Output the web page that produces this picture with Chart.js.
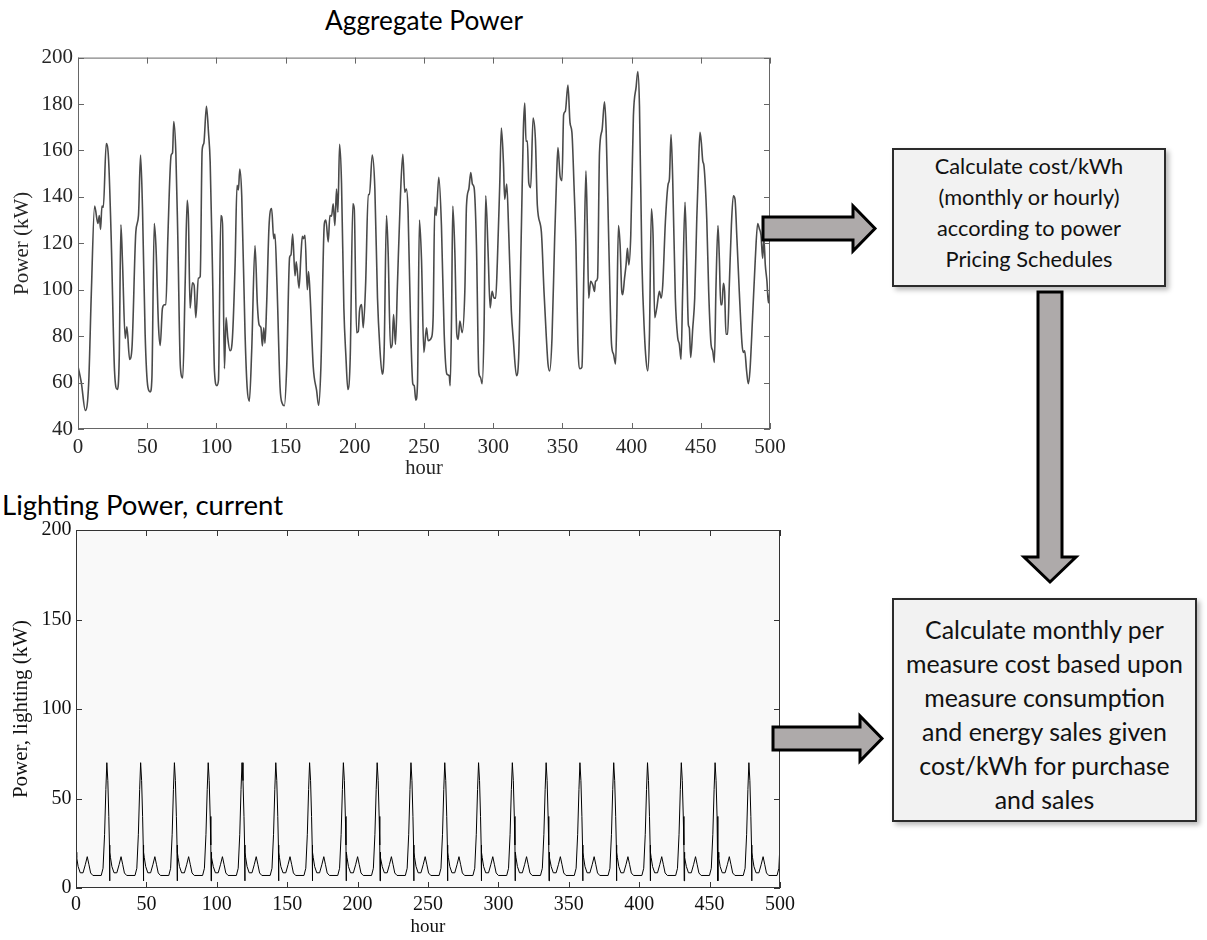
<!DOCTYPE html>
<html>
<head>
<meta charset="utf-8">
<script src="https://cdn.jsdelivr.net/npm/chart.js@4.4.0/dist/chart.umd.min.js"></script>
<style>
  body { margin: 0; width: 1207px; height: 940px; position: relative; background: #fff; overflow: hidden; font-family: Lato, "Open Sans", sans-serif; }
  .wrap { position: absolute; left: 0; }
  #aggWrap { top: 40px; }
  #lightWrap { top: 500px; }
  .title { position: absolute; white-space: nowrap; color: #000; line-height: 1; }
  .box { position: absolute; box-sizing: border-box; background: #f2f2f2; border: 2px solid #2b2b2b; box-shadow: 3px 3px 5px rgba(0,0,0,0.28); text-align: center; color: #111; }
  .box div { white-space: nowrap; }
  svg { position: absolute; left: 0; top: 0; }
</style>
</head>
<body>

<div class="title" id="aggTitle" style="left:424px;top:20px;transform:translate(-50%,-50%)">Aggregate Power</div>
<div class="title" id="lightTitle" style="left:2px;top:505px;transform:translateY(-50%)">Lighting Power, current</div>

<div class="wrap" id="aggWrap"><canvas id="aggChart" width="800" height="450"></canvas></div>
<div class="wrap" id="lightWrap"><canvas id="lightChart" width="800" height="440"></canvas></div>

<div class="box" id="box1" style="left:892px;top:148px;width:274px;height:139px;padding-top:0px;line-height:31px">
  <div>Calculate cost/kWh</div>
  <div>(monthly or hourly)</div>
  <div>according to power</div>
  <div><span class="ref" data-fit="167">Pricing Schedules</span></div>
</div>

<div class="box" id="box2" style="left:892px;top:598px;width:305px;height:224px;padding-top:12px;line-height:34px">
  <div>Calculate monthly per</div>
  <div><span class="ref" data-fit="277">measure cost based upon</span></div>
  <div>measure consumption</div>
  <div>and energy sales given</div>
  <div>cost/kWh for purchase</div>
  <div>and sales</div>
</div>

<svg width="1207" height="940">
  <g fill="#aeaaaa" stroke="#000" stroke-width="3" stroke-linejoin="miter">
    <polygon points="763,217 853,217 853,206 875,228.5 853,251 853,240 763,240"/>
    <polygon points="1038,292 1062,292 1062,557 1076,557 1050,582 1024,557 1038,557"/>
    <polygon points="773,727 860,727 860,716 882,738.5 860,761 860,750 773,750"/>
  </g>
</svg>

<script>
// aggregate power (hour, kW)
const aggHours = [0, 2.4, 5.3, 7.7, 9.6, 12, 14.4, 15.4, 16.3, 17.3, 18.3, 20.4, 22.1, 24, 26.4, 28.4, 29.8, 31, 32.2, 34.1,
  35.3, 37.3, 39, 41.8, 43.7, 45.2, 46.6, 48.5, 50.5, 52.2, 53.4, 55.1, 56.3, 58.2, 59.4, 61, 62.5, 63.5, 64.9, 67.3,
  68.3, 69.2, 70.7, 72.1, 74, 75.7, 77.4, 78.9, 79.8, 81, 82.7, 83.9, 85.1, 87, 88.3, 89.7, 90.9, 92.8, 94.3, 95.5,
  97.1, 98.6, 100.3, 101.5, 103.2, 104.4, 105.8, 107, 108.2, 109.9, 111.6, 113.5, 114.9, 115.9, 116.9, 118.3, 120.7, 122.2, 123.8, 125.5,
  127.9, 129.6, 130.8, 132.2, 133.2, 134.2, 135.1, 136.3, 138, 139.9, 141.4, 142.3, 143.8, 146, 147.6, 149.1, 150.8, 152.9, 153.9, 155.1,
  156.8, 157.7, 159.7, 161.1, 162.1, 163, 164, 165.7, 166.6, 167.8, 170, 172.4, 173.9, 175.5, 178, 179.1, 180.8, 182, 183.2, 184.4,
  185.6, 186.8, 187.8, 189, 190.4, 192.1, 193.6, 195, 196.7, 198.6, 199.6, 201.3, 202.5, 203.4, 204.9, 206.1, 207.8, 209.7, 210.6, 212.6,
  214.5, 216.4, 218.1, 219.8, 221.2, 222.9, 224.1, 225.8, 227, 228, 229.4, 230.8, 232.8, 234.7, 236.1, 237.3, 238.5, 240.2, 241.9, 242.9,
  244.1, 245.3, 246.7, 248.2, 249.9, 251.8, 253, 255.4, 256.6, 257.8, 258.8, 260.7, 262.6, 264.6, 266.5, 268.2, 268.9, 269.9, 270.8, 272.3,
  273.7, 274.7, 275.9, 277.6, 279.5, 280.7, 282.4, 283.8, 285, 286.2, 287.9, 289.6, 290.8, 292, 293.4, 294.6, 296.3, 297.8, 299.2, 300.6,
  301.8, 303, 304.7, 305.9, 307.4, 308.3, 309.8, 311.2, 313.1, 314.6, 316.8, 318.4, 320.4, 321.8, 322.8, 323.7, 324.7, 325.7, 327.1, 328.8,
  330.5, 331.9, 334.8, 336.7, 338.4, 339.6, 340.8, 342.5, 344.4, 345.9, 346.8, 348.3, 349.7, 350.9, 352.1, 354, 355.5, 356.9, 358.4, 359.8,
  361.2, 362.7, 364.1, 365.6, 367, 368, 369, 370.4, 372, 373.2, 373.9, 375.4, 376.8, 378.7, 380.4, 381.6, 383.5, 385.5, 386.9, 388.4,
  389.3, 390.5, 391.7, 392.9, 393.6, 394.9, 396, 397, 398, 399.4, 401.3, 403.3, 404.5, 405.7, 407.4, 409.3, 410.5, 411.7, 412.9, 414.3,
  415.5, 416.7, 418.2, 420.1, 421.3, 422.5, 424.4, 426.4, 427.3, 428.5, 429.7, 431.6, 433.3, 434.5, 435.7, 436.9, 438.6, 439.8, 441, 441.7,
  442.7, 444.2, 445.6, 447.1, 448.2, 449.4, 450.4, 451.4, 452.3, 454.3, 455.7, 457.4, 458.6, 459.8, 461, 462.4, 463.4, 464.4, 465.3, 466.3,
  467.2, 468.2, 469.4, 470.6, 472.1, 473.5, 474.7, 476.1, 477.8, 479.8, 480.7, 481.7, 483.1, 484.3, 485.5, 487.4, 489.4, 491.1, 492.3, 493.5,
  494.7, 495.6, 496.6, 497.8, 498.8, 500];
const aggKw = [67, 60, 48, 59.5, 98, 136, 128.5, 132, 126, 136, 135.5, 163, 156, 122, 65, 57, 71, 128, 111, 79,
  84, 70, 75, 125, 132, 158, 135, 81, 58, 56, 62, 128.5, 119, 84, 76, 92, 93.5, 93.5, 122, 158,
  159, 172.5, 159, 123, 66.5, 62, 102, 138.5, 130.6, 92, 103, 102, 88, 105, 105.7, 160, 163, 179, 167.6, 155,
  110.7, 65, 58.7, 61, 132, 128.5, 66, 88, 79.4, 73.7, 79.4, 110.7, 145, 143, 152, 140.5, 81, 58, 52, 73.7,
  119, 93.6, 85, 83.6, 75.8, 83.6, 77, 93.6, 127, 135, 122, 124, 102, 58, 51, 50, 66.6, 114, 115, 124,
  106, 112, 100.7, 115, 123, 122, 123.5, 100, 107.8, 96.4, 66.6, 56.6, 50.2, 66.6, 128.5, 130, 120.6, 132, 131.7, 137,
  127.7, 143.4, 133.4, 162.6, 146, 92, 71, 57, 71, 137, 134.9, 81.5, 82, 90.8, 93.6, 83.6, 102, 141, 141, 158,
  143.4, 96.4, 75, 63.7, 73.7, 132, 116, 75, 76.5, 89.3, 76.5, 102, 137.7, 158.3, 142, 143.4, 133.4, 88, 59.5, 58.7,
  52.4, 59.5, 130, 113, 73, 83.6, 78, 79.4, 88, 135.6, 132, 148.4, 127.7, 80.8, 63.7, 63, 58.7, 88, 136, 116,
  80.8, 78.6, 86.5, 81.5, 99.3, 136.3, 143.4, 150.5, 145.5, 144, 119.2, 64.4, 62.3, 59.5, 83.6, 140.5, 116.4, 92.2, 99.3, 96.4,
  96.4, 112, 144.8, 169.7, 154.8, 139, 145.5, 124.9, 90.8, 78, 63, 70.8, 127.7, 169, 180.4, 164, 164, 146, 144, 174,
  164.7, 136.3, 124.9, 99.3, 79.4, 68, 65, 79.4, 122, 150.5, 161.2, 149, 147, 175.4, 176.8, 188.2, 172, 167.6, 144.8, 119.2,
  76.5, 66, 66.6, 110.7, 151.2, 127.7, 96.4, 103.6, 102, 99.3, 103.6, 105, 159, 169, 181, 169, 120.6, 76.5, 72.3, 68,
  88, 127.7, 119.2, 99.3, 97.9, 105, 110.7, 117.8, 110.7, 123.5, 174.7, 187.5, 194, 178.9, 113.5, 80.8, 69.4, 65, 80.8, 134.9,
  123.5, 88, 92.2, 99.3, 96.4, 102, 129.2, 145.5, 147.6, 166.9, 147.6, 96.4, 79.4, 76.5, 70, 99.3, 137.7, 113.5, 85, 83.6,
  70.8, 83.6, 96.4, 130.6, 150.5, 167.8, 163.3, 155.5, 153.3, 130.6, 99.3, 76.5, 73.7, 68.7, 102, 127.7, 113.5, 93.6, 93.6, 102.8,
  99.3, 80.8, 80.8, 102, 127.7, 140.5, 139, 122, 99.3, 76.5, 73, 73.7, 65, 59.5, 65, 88, 113.5, 128.5, 126.3, 123.5,
  113.5, 122, 110.7, 103.6, 94.3, 100];

// lighting power: one day's profile (hour of day, kW), the same every day in the picture
const lightDayHour = [0, 0.5, 1.5, 3, 5, 6.6, 8, 9.2, 10.4, 12, 17.9, 19.2, 20.3, 21.2, 21.9, 22.6, 23.3, 23.75, 23.95];
const lightDayKw   = [20, 17, 12, 8.5, 8.5, 13, 17.5, 13, 8.4, 7, 7, 11, 30, 55, 70, 60, 40, 24, 4];
const lightDays = 21;

const aggYTicks = [40, 60, 80, 100, 120, 140, 160, 180, 200];
const lightYTicks = [0, 50, 100, 150, 200];
const hourTicks = [0, 50, 100, 150, 200, 250, 300, 350, 400, 450, 500];

const serif = "'Liberation Serif', 'Times New Roman', serif";

let lightPoints = [];
for (let d = 0; d < lightDays; d++) {
    lightDayHour.forEach((h, i) => {
        let x = d * 24 + h;
        if (x <= 502) lightPoints.push({ x: x, y: lightDayKw[i] });
    });
}

// MATLAB-like box with inward ticks on all four sides
const framePlugin = {
    id: 'frame',
    beforeDatasetsDraw(chart, args, opts) {
        if (!opts.bg) return;
        const a = chart.chartArea;
        chart.ctx.save();
        chart.ctx.fillStyle = opts.bg;
        chart.ctx.fillRect(a.left, a.top, a.width, a.height);
        chart.ctx.restore();
    },
    afterDraw(chart, args, opts) {
        const { ctx, chartArea: a, scales } = chart;
        const len = 6;
        ctx.save();
        ctx.strokeStyle = opts.color;
        ctx.lineWidth = 1;
        ctx.strokeRect(a.left + 0.5, a.top + 0.5, a.width - 1, a.height - 1);
        ctx.beginPath();
        scales.x.ticks.forEach(t => {
            const px = Math.round(scales.x.getPixelForValue(t.value)) + 0.5;
            ctx.moveTo(px, a.bottom); ctx.lineTo(px, a.bottom - len);
            ctx.moveTo(px, a.top); ctx.lineTo(px, a.top + len);
        });
        scales.y.ticks.forEach(t => {
            const py = Math.round(scales.y.getPixelForValue(t.value)) + 0.5;
            ctx.moveTo(a.left, py); ctx.lineTo(a.left + len, py);
            ctx.moveTo(a.right, py); ctx.lineTo(a.right - len, py);
        });
        ctx.stroke();
        ctx.restore();
    }
};

function tickList(values) {
    return scale => { scale.ticks = values.map(v => ({ value: v })); };
}

let aggChart = new Chart(document.getElementById('aggChart'), {
    type: 'line',
    data: {
        datasets: [{
            data: aggHours.map((h, i) => ({ x: h, y: aggKw[i] })),
            borderColor: '#4a4a4a',
            borderWidth: 1.6,
            pointRadius: 0,
            cubicInterpolationMode: 'monotone',
            clip: 0
        }]
    },
    options: {
        responsive: false,
        animation: false,
        layout: { padding: { top: 14, right: 30, left: 0, bottom: 0 } },
        plugins: {
            legend: { display: false },
            tooltip: { enabled: false },
            frame: { color: '#666' }
        },
        scales: {
            x: {
                type: 'linear', min: 0, max: 500,
                afterBuildTicks: tickList(hourTicks),
                afterFit: s => { s.height = 61; },
                grid: { display: false, drawTicks: false },
                border: { display: false },
                ticks: { font: { family: serif, size: 21 }, color: '#262626', padding: 6, maxRotation: 0, autoSkip: false },
                title: { display: true, text: 'hour', font: { family: serif, size: 20.5 }, color: '#262626', padding: { top: 0, bottom: 9 } }
            },
            y: {
                min: 40, max: 200,
                afterBuildTicks: tickList(aggYTicks),
                afterFit: s => { s.width = 78; },
                grid: { display: false, drawTicks: false },
                border: { display: false },
                ticks: { font: { family: serif, size: 21 }, color: '#262626', padding: 5 },
                title: { display: true, text: 'Power (kW)', font: { family: serif, size: 21 }, color: '#262626', padding: { top: 10, bottom: 0 } }
            }
        }
    },
    plugins: [framePlugin]
});

let lightChart = new Chart(document.getElementById('lightChart'), {
    type: 'line',
    data: {
        datasets: [{
            data: lightPoints,
            borderColor: '#000',
            borderWidth: 1,
            pointRadius: 0,
            tension: 0,
            clip: 0
        }]
    },
    options: {
        responsive: false,
        animation: false,
        layout: { padding: { top: 30, right: 16, left: 0, bottom: 0 } },
        plugins: {
            legend: { display: false },
            tooltip: { enabled: false },
            frame: { color: '#333', bg: '#f9f9f9' }
        },
        scales: {
            x: {
                type: 'linear', min: 0, max: 500,
                afterBuildTicks: tickList(hourTicks),
                afterFit: s => { s.height = 52; },
                grid: { display: false, drawTicks: false },
                border: { display: false },
                ticks: { font: { family: serif, size: 20 }, color: '#111', padding: 5, maxRotation: 0, autoSkip: false },
                title: { display: true, text: 'hour', font: { family: serif, size: 19 }, color: '#111', padding: { top: 0, bottom: 2 } }
            },
            y: {
                min: 0, max: 200,
                afterBuildTicks: tickList(lightYTicks),
                afterFit: s => { s.width = 76; },
                grid: { display: false, drawTicks: false },
                border: { display: false },
                ticks: { font: { family: serif, size: 20 }, color: '#111', padding: 4.5 },
                title: { display: true, text: 'Power, lighting (kW)', font: { family: serif, size: 21 }, color: '#111', padding: { top: 9, bottom: 0 } }
            }
        }
    },
    plugins: [framePlugin]
});

// size the diagram text so each reference line spans the width it has in the picture
function fitText(el, target, holder) {
    holder.style.fontSize = '100px';
    const w = el.getBoundingClientRect().width;
    holder.style.fontSize = (100 * target / w).toFixed(2) + 'px';
}
fitText(document.getElementById('aggTitle'), 198, document.getElementById('aggTitle'));
fitText(document.getElementById('lightTitle'), 281, document.getElementById('lightTitle'));
document.querySelectorAll('.box').forEach(box => {
    const ref = box.querySelector('.ref');
    fitText(ref, +ref.dataset.fit, box);
});
</script>
</body>
</html>
